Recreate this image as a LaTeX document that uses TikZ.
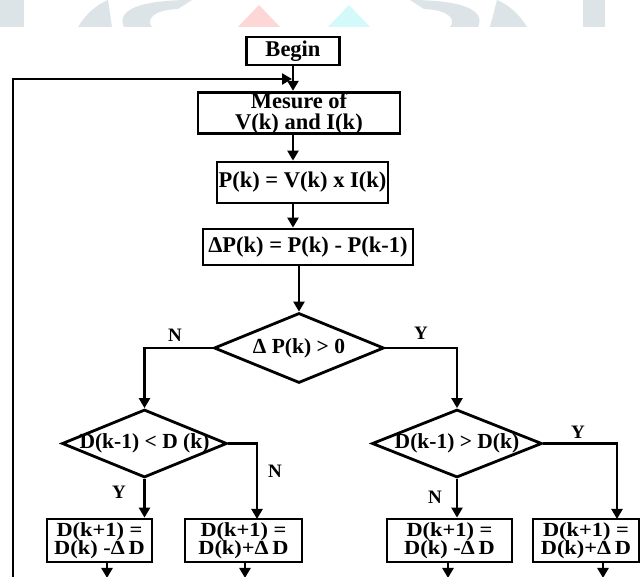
\documentclass[tikz,border=0pt]{standalone}
\usepackage{fontspec}
\setmainfont{Liberation Serif}
\usetikzlibrary{arrows.meta,shapes.geometric}
\definecolor{wmgray}{HTML}{DDE4E8}
\definecolor{wmpink}{HTML}{FDD6D6}
\definecolor{wmcyan}{HTML}{D4F9FA}
\tikzset{
  box/.style={draw=black, line width=2.8pt, rectangle, inner sep=0pt, align=center,
    font=\fontsize{22.5}{21}\selectfont\bfseries},
  dbox/.style={draw=black, line width=2.8pt, rectangle, inner sep=0pt, align=center,
    minimum height=43pt, font=\fontsize{20}{18.5}\selectfont\bfseries},
  dia/.style={draw=black, line width=2.8pt, diamond, inner sep=0pt},
  diatext/.style={inner sep=0pt, font=\fontsize{21.5}{20}\selectfont\bfseries},
  lab/.style={inner sep=0pt, font=\fontsize{19}{19}\selectfont\bfseries},
  conn/.style={line width=2.8pt},
  arr/.style={line width=2.8pt, -{Triangle[length=10pt,width=11pt]}},
}
\newcommand{\dtxt}[2]{\scalebox{1.12}[1]{#1}\\\scalebox{1.12}[1]{#2}}
\begin{document}
\begin{tikzpicture}[x=1pt,y=-1pt]
\useasboundingbox (0,0) rectangle (641,577);
\fill[white] (0,0) rectangle (641,577);
% watermark
\begin{scope}
  \fill[wmgray] (0,0) rectangle (24,27);
  \fill[wmgray] (78,27) .. controls (86,14) and (96,5) .. (108,0) -- (112,27) -- cycle;
  \fill[wmgray] (124,27) .. controls (116,10) and (140,0) .. (192,0) -- (178,9)
     .. controls (152,10) and (146,20) .. (152,27) -- cycle;
  \fill[wmpink] (238,27) -- (259,5) -- (280,27) -- cycle;
  \fill[wmcyan] (328,27) -- (349,5) -- (370,27) -- cycle;
  \fill[wmgray] (583,0) rectangle (605,27);
  \fill[wmgray] (527,27) .. controls (519,14) and (509,5) .. (497,0) -- (490,27) -- cycle;
  \fill[wmgray] (478,27) .. controls (486,10) and (462,0) .. (410,0) -- (424,9)
     .. controls (450,10) and (456,20) .. (450,27) -- cycle;
\end{scope}
% nodes
\node[box, minimum width=93pt, minimum height=28pt] (begin) at (293,51) {Begin};
\node[box, minimum width=202pt, minimum height=40pt] (mes) at (299,113)
  {Mesure of\\ V(k) and I(k)};
\node[box, minimum width=171pt, minimum height=41pt] (pk) at (302.5,182.5)
  {P(k) = V(k) x I(k)};
\node[box, minimum width=210pt, minimum height=36pt] (dp) at (308,247)
  {ΔP(k) = P(k) - P(k-1)};
\node[dia, minimum width=170pt, minimum height=70pt] (d1) at (299,348) {};
\node[diatext] at (d1.center) {Δ P(k) > 0};
\node[dia, minimum width=165pt, minimum height=68pt] (d2) at (144.5,443.5) {};
\node[diatext] at (d2.center) {D(k-1) < D (k)};
\node[dia, minimum width=170pt, minimum height=68pt] (d3) at (457,443.5) {};
\node[diatext] at (d3.center) {D(k-1) > D(k)};
\node[dbox, minimum width=105pt] (ll) at (99.5,540.5) {\dtxt{D(k+1) =}{D(k) -Δ\,D}};
\node[dbox, minimum width=117pt] (lr) at (243.5,540.5) {\dtxt{D(k+1) =}{D(k)+Δ\,D}};
\node[dbox, minimum width=125pt] (rl) at (449.5,540.5) {\dtxt{D(k+1) =}{D(k) -Δ\,D}};
\node[dbox, minimum width=106pt] (rr) at (586,540.5) {\dtxt{D(k+1) =}{D(k)+Δ\,D}};
% labels
\node[lab] (n1) at (175,335) {N};
\node[lab] (y1) at (421,333) {Y};
\node[lab] (y2) at (119,492) {Y};
\node[lab] (n2) at (275,471) {N};
\node[lab] (n3) at (435,497) {N};
\node[lab] (y3) at (578,432) {Y};
% coordinates
\coordinate (fbstart) at (13,578);
\coordinate (fbend) at (292,79);
\coordinate (lrin) at (257,519);
\coordinate (rrin) at (617,519);
\coordinate (o1) at (107,578);
\coordinate (o2) at (245,578);
\coordinate (o3) at (448,578);
\coordinate (o4) at (603,578);
% connectors
\draw[arr] (begin.south) -- (begin.south |- mes.north);
\draw[arr] (fbstart) |- (fbend);
\draw[arr] (mes.south -| begin.south) -- (pk.north -| begin.south);
\draw[arr] (pk.south -| begin.south) -- (dp.north -| begin.south);
\draw[arr] (dp.south -| d1.north) -- (d1.north);
\draw[arr] (d1.west) -| (d2.north);
\draw[arr] (d1.east) -| (d3.north);
\draw[arr] (d2.south) -- (d2.south |- ll.north);
\draw[arr] (d2.east) -| (lrin);
\draw[arr] (d3.south) -- (d3.south |- rl.north);
\draw[arr] (d3.east) -| (rrin);
\draw[arr] (ll.south -| o1) -- (o1);
\draw[arr] (lr.south -| o2) -- (o2);
\draw[arr] (rl.south -| o3) -- (o3);
\draw[arr] (rr.south -| o4) -- (o4);
\end{tikzpicture}
\end{document}
